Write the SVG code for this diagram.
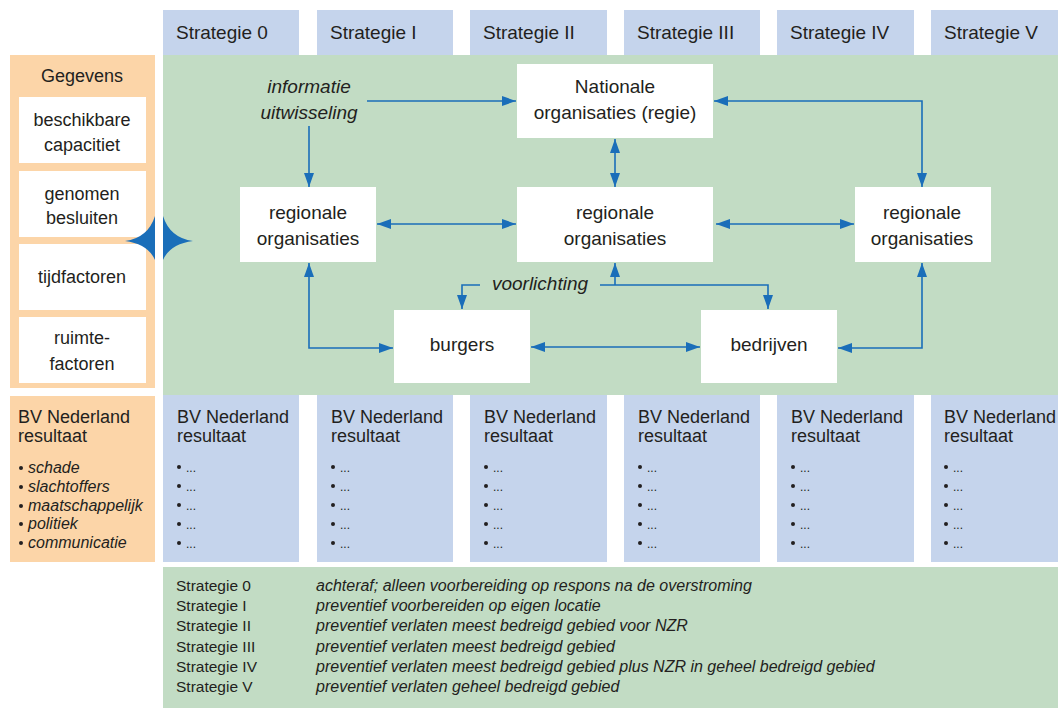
<svg xmlns="http://www.w3.org/2000/svg" width="1058" height="708" viewBox="0 0 1058 708">
<defs>
<style>
text{font-family:"Liberation Sans",Arial,sans-serif;fill:#231f20}
.hd{font-size:19px}
.nd{font-size:19px;text-anchor:middle}
.lp{font-size:18px;text-anchor:middle}
.it{font-style:italic}
.bv{font-size:18px}
.dots{font-size:12px;fill:#231f20}
.lg{font-size:15.5px}
.lgi{font-size:16px;font-style:italic}
.box{fill:#ffffff}
.blue{fill:#c5d4ec}
.green{fill:#c2dcc4}
.orange{fill:#fcd5a8}
.con{fill:none;stroke:#1a6eb9;stroke-width:1.6}
.bul{fill:#231f20}
</style>
<marker id="ah" viewBox="0 0 14 10" refX="14" refY="5" markerWidth="14" markerHeight="10" markerUnits="userSpaceOnUse" orient="auto-start-reverse">
<path d="M0,0 L14,5 L0,10 z" fill="#1a6eb9"/>
</marker>
</defs>

<!-- backgrounds -->
<rect class="green" x="163" y="55" width="895" height="340"/>
<rect class="orange" x="10" y="55" width="145" height="333"/>
<rect class="orange" x="10" y="396" width="145" height="166"/>
<rect class="green" x="163" y="567" width="895" height="141"/>

<!-- strategy headers -->
<g id="headers">
<rect class="blue" x="163" y="10" width="136" height="45"/>
<rect class="blue" x="317" y="10" width="136" height="45"/>
<rect class="blue" x="470" y="10" width="137" height="45"/>
<rect class="blue" x="624" y="10" width="136" height="45"/>
<rect class="blue" x="777" y="10" width="137" height="45"/>
<rect class="blue" x="931" y="10" width="127" height="45"/>
<text class="hd" x="176" y="39">Strategie 0</text>
<text class="hd" x="330" y="39">Strategie I</text>
<text class="hd" x="483" y="39">Strategie II</text>
<text class="hd" x="637" y="39">Strategie III</text>
<text class="hd" x="790" y="39">Strategie IV</text>
<text class="hd" x="944" y="39">Strategie V</text>
</g>

<!-- Gegevens panel -->
<g id="gegevens">
<text class="lp" x="82" y="82">Gegevens</text>
<rect class="box" x="19" y="97" width="127" height="66"/>
<text class="lp" x="82" y="126">beschikbare</text>
<text class="lp" x="82" y="151">capacitiet</text>
<rect class="box" x="19" y="171" width="127" height="66"/>
<text class="lp" x="82" y="200">genomen</text>
<text class="lp" x="82" y="224">besluiten</text>
<rect class="box" x="19" y="244" width="127" height="66"/>
<text class="lp" x="82" y="283">tijdfactoren</text>
<rect class="box" x="19" y="317" width="127" height="66"/>
<text class="lp" x="82" y="344">ruimte-</text>
<text class="lp" x="82" y="370">factoren</text>
</g>

<!-- diamond -->
<g id="diamond" fill="#1a6eb9">
<path d="M155,216 Q148,238 125,241 Q148,244 155,260 Z"/>
<path d="M163,216 Q170,238 193,241 Q170,244 163,260 Z"/>
</g>

<!-- nodes -->
<g id="nationale">
<rect class="box" x="517" y="64" width="196" height="74"/>
<text class="nd" x="615" y="93">Nationale</text>
<text class="nd" x="615" y="119">organisaties (regie)</text>
</g>
<g id="regionaal-links">
<rect class="box" x="240" y="187" width="136" height="75"/>
<text class="nd" x="308" y="219">regionale</text>
<text class="nd" x="308" y="245">organisaties</text>
</g>
<g id="regionaal-midden">
<rect class="box" x="517" y="187" width="196" height="75"/>
<text class="nd" x="615" y="219">regionale</text>
<text class="nd" x="615" y="245">organisaties</text>
</g>
<g id="regionaal-rechts">
<rect class="box" x="855" y="187" width="136" height="75"/>
<text class="nd" x="922" y="219">regionale</text>
<text class="nd" x="922" y="245">organisaties</text>
</g>
<g id="burgers">
<rect class="box" x="394" y="310" width="136" height="73"/>
<text class="nd" x="462" y="351">burgers</text>
</g>
<g id="bedrijven">
<rect class="box" x="701" y="310" width="136" height="73"/>
<text class="nd" x="769" y="351">bedrijven</text>
</g>
<g id="labels">
<text class="nd it" x="309" y="93">informatie</text>
<text class="nd it" x="309" y="119">uitwisseling</text>
<text class="nd it" x="540" y="290">voorlichting</text>
</g>

<!-- connectors -->
<g id="connectors">
<path class="con" d="M309,126 V187" marker-end="url(#ah)"/>
<path class="con" d="M367,101 H516" marker-end="url(#ah)"/>
<path class="con" d="M615,139 V187" marker-start="url(#ah)" marker-end="url(#ah)"/>
<path class="con" d="M714,101 H922 V187" marker-start="url(#ah)" marker-end="url(#ah)"/>
<path class="con" d="M377,224 H516" marker-start="url(#ah)" marker-end="url(#ah)"/>
<path class="con" d="M716,224 H854" marker-start="url(#ah)" marker-end="url(#ah)"/>
<path class="con" d="M309,263 V348 H393" marker-start="url(#ah)" marker-end="url(#ah)"/>
<path class="con" d="M480,285 H462 V309" marker-end="url(#ah)"/>
<path class="con" d="M600,285 H768 V309" marker-end="url(#ah)"/>
<path class="con" d="M615,285 V263" marker-end="url(#ah)"/>
<path class="con" d="M531,347 H700" marker-start="url(#ah)" marker-end="url(#ah)"/>
<path class="con" d="M838,348 H922 V263" marker-start="url(#ah)" marker-end="url(#ah)"/>
</g>

<!-- result columns -->
<g id="resultaat-legenda">
<text class="bv" x="18" y="423">BV Nederland</text>
<text class="bv" x="18" y="442">resultaat</text>
<circle class="bul" cx="21" cy="468" r="2"/>
<circle class="bul" cx="21" cy="487" r="2"/>
<circle class="bul" cx="21" cy="506" r="2"/>
<circle class="bul" cx="21" cy="524" r="2"/>
<circle class="bul" cx="21" cy="543" r="2"/>
<text class="it" font-size="16" x="28" y="473">schade</text>
<text class="it" font-size="16" x="28" y="492">slachtoffers</text>
<text class="it" font-size="16" x="28" y="511">maatschappelijk</text>
<text class="it" font-size="16" x="28" y="529">politiek</text>
<text class="it" font-size="16" x="28" y="548">communicatie</text>
</g>

<g id="resultaat-0">
<rect class="blue" x="163" y="395" width="136" height="167"/>
<text class="bv" x="177" y="423">BV Nederland</text>
<text class="bv" x="177" y="442">resultaat</text>
<g class="bul"><circle cx="179" cy="467" r="2"/><circle cx="179" cy="486" r="2"/><circle cx="179" cy="505" r="2"/><circle cx="179" cy="524" r="2"/><circle cx="179" cy="543" r="2"/></g>
<text class="dots" x="186" y="472">...</text><text class="dots" x="186" y="491">...</text><text class="dots" x="186" y="510">...</text><text class="dots" x="186" y="529">...</text><text class="dots" x="186" y="548">...</text>
</g>
<g id="resultaat-1">
<rect class="blue" x="317" y="395" width="136" height="167"/>
<text class="bv" x="331" y="423">BV Nederland</text>
<text class="bv" x="331" y="442">resultaat</text>
<g class="bul"><circle cx="333" cy="467" r="2"/><circle cx="333" cy="486" r="2"/><circle cx="333" cy="505" r="2"/><circle cx="333" cy="524" r="2"/><circle cx="333" cy="543" r="2"/></g>
<text class="dots" x="340" y="472">...</text><text class="dots" x="340" y="491">...</text><text class="dots" x="340" y="510">...</text><text class="dots" x="340" y="529">...</text><text class="dots" x="340" y="548">...</text>
</g>
<g id="resultaat-2">
<rect class="blue" x="470" y="395" width="137" height="167"/>
<text class="bv" x="484" y="423">BV Nederland</text>
<text class="bv" x="484" y="442">resultaat</text>
<g class="bul"><circle cx="486" cy="467" r="2"/><circle cx="486" cy="486" r="2"/><circle cx="486" cy="505" r="2"/><circle cx="486" cy="524" r="2"/><circle cx="486" cy="543" r="2"/></g>
<text class="dots" x="493" y="472">...</text><text class="dots" x="493" y="491">...</text><text class="dots" x="493" y="510">...</text><text class="dots" x="493" y="529">...</text><text class="dots" x="493" y="548">...</text>
</g>
<g id="resultaat-3">
<rect class="blue" x="624" y="395" width="136" height="167"/>
<text class="bv" x="638" y="423">BV Nederland</text>
<text class="bv" x="638" y="442">resultaat</text>
<g class="bul"><circle cx="640" cy="467" r="2"/><circle cx="640" cy="486" r="2"/><circle cx="640" cy="505" r="2"/><circle cx="640" cy="524" r="2"/><circle cx="640" cy="543" r="2"/></g>
<text class="dots" x="647" y="472">...</text><text class="dots" x="647" y="491">...</text><text class="dots" x="647" y="510">...</text><text class="dots" x="647" y="529">...</text><text class="dots" x="647" y="548">...</text>
</g>
<g id="resultaat-4">
<rect class="blue" x="777" y="395" width="137" height="167"/>
<text class="bv" x="791" y="423">BV Nederland</text>
<text class="bv" x="791" y="442">resultaat</text>
<g class="bul"><circle cx="793" cy="467" r="2"/><circle cx="793" cy="486" r="2"/><circle cx="793" cy="505" r="2"/><circle cx="793" cy="524" r="2"/><circle cx="793" cy="543" r="2"/></g>
<text class="dots" x="800" y="472">...</text><text class="dots" x="800" y="491">...</text><text class="dots" x="800" y="510">...</text><text class="dots" x="800" y="529">...</text><text class="dots" x="800" y="548">...</text>
</g>
<g id="resultaat-5">
<rect class="blue" x="931" y="395" width="127" height="167"/>
<text class="bv" x="944" y="423">BV Nederland</text>
<text class="bv" x="944" y="442">resultaat</text>
<g class="bul"><circle cx="946" cy="467" r="2"/><circle cx="946" cy="486" r="2"/><circle cx="946" cy="505" r="2"/><circle cx="946" cy="524" r="2"/><circle cx="946" cy="543" r="2"/></g>
<text class="dots" x="953" y="472">...</text><text class="dots" x="953" y="491">...</text><text class="dots" x="953" y="510">...</text><text class="dots" x="953" y="529">...</text><text class="dots" x="953" y="548">...</text>
</g>

<!-- legend -->
<g id="legenda">
<text class="lg" x="176" y="591">Strategie 0</text>
<text class="lg" x="176" y="611">Strategie I</text>
<text class="lg" x="176" y="631">Strategie II</text>
<text class="lg" x="176" y="652">Strategie III</text>
<text class="lg" x="176" y="672">Strategie IV</text>
<text class="lg" x="176" y="692">Strategie V</text>
<text class="lgi" x="316" y="591">achteraf; alleen voorbereiding op respons na de overstroming</text>
<text class="lgi" x="316" y="611">preventief voorbereiden op eigen locatie</text>
<text class="lgi" x="316" y="631">preventief verlaten meest bedreigd gebied voor NZR</text>
<text class="lgi" x="316" y="652">preventief verlaten meest bedreigd gebied</text>
<text class="lgi" x="316" y="672">preventief verlaten meest bedreigd gebied plus NZR in geheel bedreigd gebied</text>
<text class="lgi" x="316" y="692">preventief verlaten geheel bedreigd gebied</text>
</g>
</svg>
